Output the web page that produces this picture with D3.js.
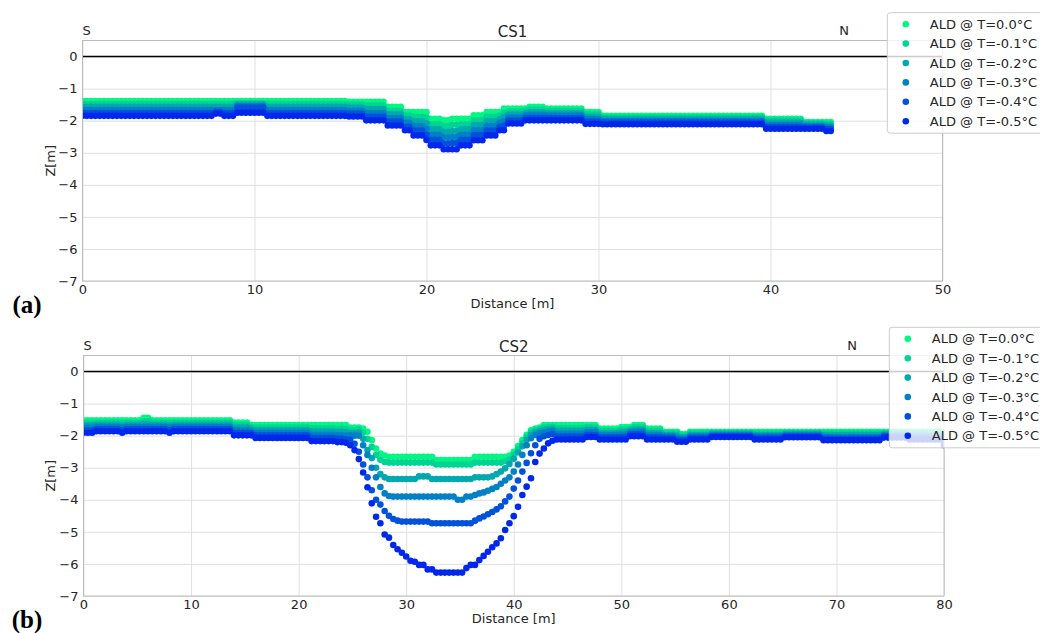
<!DOCTYPE html>
<html><head><meta charset="utf-8">
<script src="https://cdn.jsdelivr.net/npm/d3@7"></script>
<style>body{margin:0;background:#fff}svg{display:block}</style>
</head><body><svg id="c" width="1040" height="633"></svg>
<script>
const seriesLabels = ["ALD @ T=0.0°C","ALD @ T=-0.1°C","ALD @ T=-0.2°C","ALD @ T=-0.3°C","ALD @ T=-0.4°C","ALD @ T=-0.5°C"];
const seriesColors = ["#00f882","#00d494","#00a9ad","#0080c6","#0052dd","#0027ec"];
const yTicks = [0,-1,-2,-3,-4,-5,-6,-7];
const xTicks1 = [0,10,20,30,40,50];
const xTicks2 = [0,10,20,30,40,50,60,70,80];

// ---------- CS1 ----------
const cs1_x = [
0,0.25,0.5,0.75,1,1.25,1.5,1.75,2,2.25,2.5,2.75,3,3.25,3.5,3.75,4,4.25,4.5,4.75,
5,5.25,5.5,5.75,6,6.25,6.5,6.75,7,7.25,7.5,7.75,8,8.25,8.5,8.75,9,9.25,9.5,9.75,
10,10.25,10.5,10.75,11,11.25,11.5,11.75,12,12.25,12.5,12.75,13,13.25,13.5,13.75,14,14.25,14.5,14.75,
15,15.25,15.5,15.75,16,16.25,16.5,16.75,17,17.25,17.5,17.75,18,18.25,18.5,18.75,19,19.25,19.5,19.75,
20,20.25,20.5,20.75,21,21.25,21.5,21.75,22,22.25,22.5,22.75,23,23.25,23.5,23.75,24,24.25,24.5,24.75,
25,25.25,25.5,25.75,26,26.25,26.5,26.75,27,27.25,27.5,27.75,28,28.25,28.5,28.75,29,29.25,29.5,29.75,
30,30.25,30.5,30.75,31,31.25,31.5,31.75,32,32.25,32.5,32.75,33,33.25,33.5,33.75,34,34.25,34.5,34.75,
35,35.25,35.5,35.75,36,36.25,36.5,36.75,37,37.25,37.5,37.75,38,38.25,38.5,38.75,39,39.25,39.5,39.75,
40,40.25,40.5,40.75,41,41.25,41.5,41.75,42,42.25,42.5,42.75,43,43.25,43.5];

const cs1_t00 = [
-1.39,-1.39,-1.39,-1.39,-1.39,-1.39,-1.39,-1.39,-1.39,-1.39,
-1.39,-1.39,-1.39,-1.39,-1.39,-1.39,-1.39,-1.39,-1.39,-1.39,
-1.39,-1.39,-1.39,-1.39,-1.39,-1.39,-1.39,-1.39,-1.39,-1.39,
-1.39,-1.39,-1.39,-1.39,-1.39,-1.39,-1.39,-1.39,-1.39,-1.39,
-1.39,-1.39,-1.39,-1.39,-1.39,-1.39,-1.39,-1.39,-1.39,-1.39,
-1.39,-1.39,-1.39,-1.39,-1.39,-1.39,-1.39,-1.39,-1.39,-1.39,
-1.39,-1.39,
-1.41,-1.41,-1.41,-1.41,-1.41,-1.41,-1.41,-1.41,-1.41,
-1.57,-1.57,-1.57,-1.57,
-1.73,-1.73,-1.73,-1.73,-1.73,-1.73,
-1.94,-1.94,-1.94,
-1.99,-1.99,
-1.94,-1.94,-1.94,-1.94,-1.94,
-1.83,-1.83,-1.83,
-1.73,-1.73,-1.73,-1.73,
-1.62,-1.62,-1.62,-1.62,-1.62,-1.62,
-1.57,-1.57,-1.57,-1.57,
-1.62,-1.62,-1.62,-1.62,-1.62,-1.62,-1.62,-1.62,-1.62,
-1.73,-1.73,-1.73,-1.73,
-1.85,-1.85,-1.85,-1.85,-1.85,-1.85,-1.85,-1.85,-1.85,-1.85,
-1.85,-1.85,-1.85,-1.85,-1.85,-1.85,-1.85,-1.85,-1.85,-1.85,
-1.85,-1.85,-1.85,-1.85,-1.85,-1.85,-1.85,-1.85,-1.85,-1.85,
-1.85,-1.85,-1.85,-1.85,-1.85,-1.85,-1.85,-1.85,
-1.94,-1.94,-1.94,-1.94,-1.94,-1.94,-1.94,-1.94,-1.94,
-2.04,-2.04,-2.04,-2.04,-2.04,-2.04,-2.04];

const cs1_t01 = [
-1.48,-1.48,-1.48,-1.48,-1.48,-1.48,-1.48,-1.48,-1.48,-1.48,
-1.48,-1.48,-1.48,-1.48,-1.48,-1.48,-1.48,-1.48,-1.48,-1.48,
-1.48,-1.48,-1.48,-1.48,-1.48,-1.48,-1.48,-1.48,-1.48,-1.48,
-1.48,-1.48,-1.48,-1.48,-1.48,-1.48,
-1.46,-1.46,-1.46,-1.46,-1.46,-1.46,-1.46,
-1.48,-1.48,-1.48,-1.48,-1.48,-1.48,-1.48,-1.48,-1.48,-1.48,
-1.48,-1.48,-1.48,-1.48,-1.48,-1.48,-1.48,-1.48,-1.48,
-1.50,-1.50,-1.50,-1.50,
-1.53,-1.53,-1.53,-1.53,-1.53,
-1.69,-1.69,-1.69,-1.69,
-1.84,-1.84,
-1.88,-1.88,-1.88,
-1.90,
-2.11,-2.11,-2.11,
-2.17,-2.17,
-2.13,-2.13,
-2.11,-2.11,-2.11,
-1.99,-1.99,-1.99,
-1.88,-1.88,-1.88,
-1.84,
-1.76,
-1.71,-1.71,-1.71,-1.71,
-1.69,
-1.65,-1.65,-1.65,-1.65,
-1.69,-1.69,-1.69,-1.69,-1.69,-1.69,-1.69,-1.69,-1.69,
-1.80,-1.80,-1.80,-1.80,
-1.90,-1.90,-1.90,-1.90,-1.90,-1.90,-1.90,-1.90,-1.90,-1.90,
-1.90,-1.90,-1.90,-1.90,-1.90,-1.90,-1.90,-1.90,-1.90,-1.90,
-1.90,-1.90,-1.90,-1.90,-1.90,-1.90,-1.90,-1.90,-1.90,-1.90,
-1.90,-1.90,-1.90,-1.90,-1.90,-1.90,-1.90,-1.90,
-2.00,-2.00,-2.00,-2.00,-2.00,-2.00,-2.00,-2.00,-2.00,
-2.08,-2.08,-2.08,-2.08,-2.08,
-2.10,-2.10];

const cs1_t02 = [
-1.57,-1.57,-1.57,-1.57,-1.57,-1.57,-1.57,-1.57,-1.57,-1.57,
-1.57,-1.57,-1.57,-1.57,-1.57,-1.57,-1.57,-1.57,-1.57,-1.57,
-1.57,-1.57,-1.57,-1.57,-1.57,-1.57,-1.57,-1.57,-1.57,-1.57,
-1.57,-1.57,-1.57,-1.57,-1.57,-1.57,
-1.50,-1.50,-1.50,-1.50,-1.50,-1.50,-1.50,
-1.57,-1.57,-1.57,-1.57,-1.57,-1.57,-1.57,-1.57,-1.57,-1.57,
-1.57,-1.57,-1.57,-1.57,-1.57,-1.57,-1.57,-1.57,-1.57,
-1.59,-1.59,-1.59,-1.59,
-1.64,-1.64,-1.64,-1.64,-1.64,
-1.80,-1.80,-1.80,-1.80,
-1.96,-1.96,
-2.02,-2.02,-2.02,
-2.08,
-2.27,-2.27,-2.27,
-2.35,-2.35,
-2.32,-2.32,
-2.27,-2.27,-2.27,
-2.14,-2.14,-2.14,
-2.02,-2.02,-2.02,
-1.96,
-1.89,
-1.81,-1.81,-1.81,-1.81,
-1.77,
-1.74,-1.74,-1.74,-1.74,
-1.77,-1.77,-1.77,-1.77,-1.77,-1.77,-1.77,-1.77,-1.77,
-1.88,-1.88,-1.88,-1.88,
-1.95,-1.95,-1.95,-1.95,-1.95,-1.95,-1.95,-1.95,-1.95,-1.95,
-1.95,-1.95,-1.95,-1.95,-1.95,-1.95,-1.95,-1.95,-1.95,-1.95,
-1.95,-1.95,-1.95,-1.95,-1.95,-1.95,-1.95,-1.95,-1.95,-1.95,
-1.95,-1.95,-1.95,-1.95,-1.95,-1.95,-1.95,-1.95,
-2.06,-2.06,-2.06,-2.06,-2.06,-2.06,-2.06,-2.06,-2.06,
-2.12,-2.12,-2.12,-2.12,-2.12,
-2.15,-2.15];

const cs1_t03 = [
-1.67,-1.67,-1.67,-1.67,-1.67,-1.67,-1.67,-1.67,-1.67,-1.67,
-1.67,-1.67,-1.67,-1.67,-1.67,-1.67,-1.67,-1.67,-1.67,-1.67,
-1.67,-1.67,-1.67,-1.67,-1.67,-1.67,-1.67,-1.67,-1.67,-1.67,
-1.67,-1.67,-1.67,-1.67,-1.67,-1.67,
-1.54,-1.54,-1.54,-1.54,-1.54,-1.54,-1.54,
-1.67,-1.67,-1.67,-1.67,-1.67,-1.67,-1.67,-1.67,-1.67,-1.67,
-1.67,-1.67,-1.67,-1.67,-1.67,-1.67,-1.67,-1.67,-1.67,
-1.69,-1.69,-1.69,-1.69,
-1.76,-1.76,-1.76,-1.76,-1.76,
-1.92,-1.92,-1.92,-1.92,
-2.07,-2.07,
-2.17,-2.17,-2.17,
-2.25,
-2.44,-2.44,-2.44,
-2.53,-2.53,
-2.51,-2.51,
-2.44,-2.44,-2.44,
-2.30,-2.30,-2.30,
-2.17,-2.17,-2.17,
-2.07,
-2.03,
-1.90,-1.90,-1.90,-1.90,
-1.84,
-1.82,-1.82,-1.82,-1.82,
-1.84,-1.84,-1.84,-1.84,-1.84,-1.84,-1.84,-1.84,-1.84,
-1.95,-1.95,-1.95,-1.95,
-2.01,-2.01,-2.01,-2.01,-2.01,-2.01,-2.01,-2.01,-2.01,-2.01,
-2.01,-2.01,-2.01,-2.01,-2.01,-2.01,-2.01,-2.01,-2.01,-2.01,
-2.01,-2.01,-2.01,-2.01,-2.01,-2.01,-2.01,-2.01,-2.01,-2.01,
-2.01,-2.01,-2.01,-2.01,-2.01,-2.01,-2.01,-2.01,
-2.13,-2.13,-2.13,-2.13,-2.13,-2.13,-2.13,-2.13,-2.13,
-2.17,-2.17,-2.17,-2.17,-2.17,
-2.21,-2.21];

const cs1_t04 = [
-1.76,-1.76,-1.76,-1.76,-1.76,-1.76,-1.76,-1.76,-1.76,-1.76,
-1.76,-1.76,-1.76,-1.76,-1.76,-1.76,-1.76,-1.76,-1.76,-1.76,
-1.76,-1.76,-1.76,-1.76,-1.76,-1.76,-1.76,-1.76,-1.76,-1.76,
-1.76,
-1.72,-1.72,
-1.76,-1.76,-1.76,
-1.58,-1.58,-1.58,-1.58,-1.58,-1.58,-1.58,
-1.76,-1.76,-1.76,-1.76,-1.76,-1.76,-1.76,-1.76,-1.76,-1.76,
-1.76,-1.76,-1.76,-1.76,-1.76,-1.76,-1.76,-1.76,-1.76,
-1.78,-1.78,-1.78,-1.78,
-1.87,-1.87,-1.87,-1.87,-1.87,
-2.03,-2.03,-2.03,-2.03,
-2.19,-2.19,
-2.31,-2.31,-2.31,
-2.43,
-2.60,-2.60,-2.60,
-2.71,-2.71,
-2.70,-2.70,
-2.60,-2.60,-2.60,
-2.45,-2.45,-2.45,
-2.31,-2.31,-2.31,
-2.19,
-2.16,
-2.00,-2.00,-2.00,-2.00,
-1.92,
-1.91,-1.91,-1.91,-1.91,
-1.92,-1.92,-1.92,-1.92,-1.92,-1.92,-1.92,-1.92,-1.92,
-2.03,-2.03,-2.03,-2.03,
-2.06,-2.06,-2.06,-2.06,-2.06,-2.06,-2.06,-2.06,-2.06,-2.06,
-2.06,-2.06,-2.06,-2.06,-2.06,-2.06,-2.06,-2.06,-2.06,-2.06,
-2.06,-2.06,-2.06,-2.06,-2.06,-2.06,-2.06,-2.06,-2.06,-2.06,
-2.06,-2.06,-2.06,-2.06,-2.06,-2.06,-2.06,-2.06,
-2.19,-2.19,-2.19,-2.19,-2.19,-2.19,-2.19,-2.19,-2.19,
-2.21,-2.21,-2.21,-2.21,-2.21,
-2.26,-2.26];

const cs1_t05 = [
-1.85,-1.85,-1.85,-1.85,-1.85,-1.85,-1.85,-1.85,-1.85,-1.85,
-1.85,-1.85,-1.85,-1.85,-1.85,-1.85,-1.85,-1.85,-1.85,-1.85,
-1.85,-1.85,-1.85,-1.85,-1.85,-1.85,-1.85,-1.85,-1.85,-1.85,
-1.85,
-1.78,-1.78,
-1.85,-1.85,-1.85,
-1.75,-1.75,-1.75,-1.75,-1.75,-1.75,-1.75,
-1.85,-1.85,-1.85,-1.85,-1.85,-1.85,-1.85,-1.85,-1.85,-1.85,
-1.85,-1.85,-1.85,-1.85,-1.85,-1.85,-1.85,-1.85,-1.85,
-1.87,-1.87,-1.87,-1.87,
-1.99,-1.99,-1.99,-1.99,-1.99,
-2.15,-2.15,-2.15,-2.15,
-2.30,-2.30,
-2.46,-2.46,-2.46,
-2.60,
-2.77,-2.77,-2.77,
-2.89,-2.89,
-2.89,-2.89,
-2.77,-2.77,-2.77,
-2.61,-2.61,-2.61,
-2.46,-2.46,-2.46,
-2.30,
-2.30,
-2.09,-2.09,-2.09,-2.09,
-1.99,
-1.99,-1.99,-1.99,-1.99,
-1.99,-1.99,-1.99,-1.99,-1.99,-1.99,-1.99,-1.99,-1.99,
-2.10,-2.10,-2.10,-2.10,
-2.11,-2.11,-2.11,-2.11,-2.11,-2.11,-2.11,-2.11,-2.11,-2.11,
-2.11,-2.11,-2.11,-2.11,-2.11,-2.11,-2.11,-2.11,-2.11,-2.11,
-2.11,-2.11,-2.11,-2.11,-2.11,-2.11,-2.11,-2.11,-2.11,-2.11,
-2.11,-2.11,-2.11,-2.11,-2.11,-2.11,-2.11,-2.11,
-2.25,-2.25,-2.25,-2.25,-2.25,-2.25,-2.25,-2.25,-2.25,
-2.25,-2.25,-2.25,-2.25,-2.25,
-2.32,-2.32];

// ---------- CS2 ----------
const cs2_x = [
0,0.4,0.8,1.2,1.6,2,2.4,2.8,3.2,3.6,
4,4.4,4.8,5.2,5.6,6,6.4,6.8,7.2,7.6,
8,8.4,8.8,9.2,9.6,10,10.4,10.8,11.2,11.6,
12,12.4,12.8,13.2,13.6,14,14.4,14.8,15.2,15.6,
16,16.4,16.8,17.2,17.6,18,18.4,18.8,19.2,19.6,
20,20.4,20.8,21.2,21.6,22,22.4,22.8,23.2,23.6,
24,24.4,24.8,25.2,25.6,26,26.4,26.8,27.2,27.6,
28,28.4,28.8,29.2,29.6,30,30.4,30.8,31.2,31.6,
32,32.4,32.8,33.2,33.6,34,34.4,34.8,35.2,35.6,
36,36.4,36.8,37.2,37.6,38,38.4,38.8,39.2,39.6,
40,40.4,40.8,41.2,41.6,42,42.4,42.8,43.2,43.6,
44,44.4,44.8,45.2,45.6,46,46.4,46.8,47.2,47.6,
48,48.4,48.8,49.2,49.6,50,50.4,50.8,51.2,51.6,
52,52.4,52.8,53.2,53.6,54,54.4,54.8,55.2,55.6,
56,56.4,56.8,57.2,57.6,58,58.4,58.8,59.2,59.6,
60,60.4,60.8,61.2,61.6,62,62.4,62.8,63.2,63.6,
64,64.4,64.8,65.2,65.6,66,66.4,66.8,67.2,67.6,
68,68.4,68.8,69.2,69.6,70,70.4,70.8,71.2,71.6,
72,72.4,72.8,73.2,73.6,74,74.4,74.8,75.2,75.6,
76,76.4,76.8,77.2,77.6,78,78.4,78.8,79.2,79.6,
80];

const cs2_t00 = [
-1.52,-1.52,-1.52,-1.52,-1.52,-1.52,-1.52,-1.52,-1.52,-1.52,
-1.52,-1.52,-1.52,-1.52,
-1.44,-1.44,
-1.52,-1.52,-1.52,-1.52,-1.52,-1.52,-1.52,-1.52,-1.52,-1.52,
-1.52,-1.52,-1.52,-1.52,-1.52,-1.52,-1.52,-1.52,-1.52,
-1.59,-1.59,-1.59,-1.59,
-1.67,-1.67,-1.67,-1.67,-1.67,-1.67,-1.67,-1.67,-1.67,-1.67,
-1.67,-1.67,-1.67,-1.67,-1.67,-1.67,-1.67,-1.67,-1.67,-1.67,
-1.67,-1.67,-1.67,
-1.75,-1.75,-1.75,
-1.78,-1.88,-2.14,-2.40,-2.56,-2.62,
-2.66,-2.66,-2.66,-2.66,-2.66,-2.66,-2.66,-2.66,-2.66,-2.66,-2.66,
-2.76,-2.76,-2.76,-2.76,-2.76,-2.76,-2.76,-2.76,-2.76,
-2.66,-2.66,-2.66,-2.66,-2.66,-2.66,-2.66,-2.66,
-2.62,-2.50,-2.32,-2.14,-1.97,-1.83,-1.78,-1.75,
-1.67,-1.67,-1.67,-1.67,-1.67,-1.67,-1.67,-1.67,-1.67,-1.67,
-1.67,-1.67,-1.67,
-1.78,-1.78,-1.78,-1.78,-1.78,
-1.73,-1.73,-1.73,
-1.67,-1.67,-1.67,
-1.78,-1.78,-1.78,-1.78,
-1.88,-1.88,-1.88,-1.88,
-1.95,-1.95,
-1.88,-1.88,-1.88,-1.88,-1.88,-1.88,-1.88,-1.88,-1.88,-1.88,
-1.88,-1.88,-1.88,-1.88,-1.88,-1.88,-1.88,-1.88,-1.88,-1.88,
-1.88,-1.88,-1.88,-1.88,-1.88,-1.88,-1.88,-1.88,-1.88,-1.88,
-1.88,-1.88,-1.88,-1.88,-1.88,-1.88,-1.88,-1.88,-1.88,-1.88,
-1.88,-1.88,-1.88,-1.88,-1.88,-1.88,-1.88,-1.88,-1.88,-1.88,
-1.88,-1.88,-1.88,-1.88,-1.88,-1.88,-1.88,-1.88,-1.88,-1.88];

const cs2_t01 = [
-1.60,-1.60,-1.60,
-1.59,-1.59,-1.59,-1.59,-1.59,-1.59,
-1.60,
-1.59,-1.59,-1.59,-1.59,
-1.55,-1.55,
-1.59,-1.59,-1.59,-1.59,
-1.60,
-1.59,-1.59,-1.59,-1.59,-1.59,-1.59,-1.59,-1.59,-1.59,-1.59,
-1.59,-1.59,-1.59,-1.59,
-1.67,-1.67,-1.67,-1.67,
-1.73,
-1.75,-1.75,-1.75,-1.75,-1.75,-1.75,-1.75,-1.75,-1.75,-1.75,
-1.75,-1.75,-1.75,
-1.77,-1.77,-1.77,-1.77,-1.77,-1.77,
-1.78,-1.78,-1.78,
-1.83,-1.83,
-1.82,-1.90,-2.10,-2.35,-2.60,-2.75,-2.82,
-2.84,-2.84,-2.84,-2.84,-2.84,-2.84,-2.84,-2.84,-2.84,-2.84,-2.84,
-2.90,-2.90,-2.90,-2.90,-2.90,-2.90,-2.90,-2.90,-2.90,
-2.84,-2.84,-2.84,-2.84,-2.84,-2.84,-2.84,
-2.80,-2.74,-2.60,-2.42,-2.24,-2.05,-1.90,-1.83,-1.80,-1.75,-1.73,-1.72,
-1.76,-1.76,-1.76,-1.76,-1.76,-1.76,-1.76,
-1.74,-1.74,-1.74,
-1.85,-1.85,-1.85,-1.85,-1.85,
-1.81,-1.81,
-1.79,
-1.74,-1.74,-1.74,
-1.85,-1.85,-1.85,-1.85,
-1.93,-1.93,-1.93,
-1.94,
-2.00,-2.00,
-1.93,-1.93,-1.93,-1.93,-1.93,
-1.91,-1.91,-1.91,-1.91,-1.91,-1.91,-1.91,-1.91,-1.91,-1.91,
-1.93,-1.93,-1.93,-1.93,-1.93,-1.93,-1.93,
-1.91,-1.91,-1.91,-1.91,-1.91,-1.91,-1.91,-1.91,-1.91,
-1.93,-1.93,-1.93,-1.93,-1.93,-1.93,-1.93,-1.93,-1.93,-1.93,-1.93,-1.93,-1.93,-1.93,
-1.92,-1.92,-1.92,-1.92,-1.92,-1.92,
-1.93,-1.93,-1.93,-1.93,-1.93,-1.93,-1.93,-1.93,
-1.96];

const cs2_t02 = [
-1.68,-1.68,-1.68,
-1.66,-1.66,-1.66,-1.66,-1.66,-1.66,
-1.68,
-1.66,-1.66,-1.66,-1.66,
-1.64,-1.64,
-1.66,-1.66,-1.66,-1.66,
-1.68,
-1.66,-1.66,-1.66,-1.66,-1.66,-1.66,-1.66,-1.66,-1.66,-1.66,
-1.66,-1.66,-1.66,-1.66,
-1.75,-1.75,-1.75,-1.75,
-1.80,
-1.83,-1.83,-1.83,-1.83,-1.83,-1.83,-1.83,-1.83,-1.83,-1.83,
-1.83,-1.83,-1.83,
-1.87,-1.87,-1.87,-1.87,-1.87,-1.87,
-1.88,-1.88,
-1.89,-1.91,-1.92,
-1.90,-2.10,-2.45,-2.70,-3.00,-3.20,-3.30,
-3.35,-3.35,-3.35,-3.35,-3.35,-3.35,-3.35,
-3.27,-3.27,-3.27,
-3.35,-3.35,-3.35,-3.35,-3.35,-3.35,-3.35,-3.35,-3.35,-3.35,
-3.30,-3.30,-3.30,-3.30,
-3.27,-3.20,-3.12,-3.02,-2.88,-2.72,-2.52,-2.33,-2.13,-1.98,-1.90,-1.86,-1.82,-1.80,-1.78,
-1.85,-1.85,-1.85,-1.85,-1.85,-1.85,-1.85,
-1.82,-1.82,-1.82,
-1.92,-1.92,-1.92,-1.92,-1.92,
-1.89,-1.89,
-1.85,
-1.81,-1.81,-1.81,
-1.92,-1.92,-1.92,-1.92,
-1.98,-1.98,-1.98,
-2.00,
-2.05,-2.05,
-1.98,-1.98,-1.98,-1.98,-1.98,
-1.94,-1.94,-1.94,-1.94,-1.94,-1.94,-1.94,-1.94,-1.94,-1.94,
-1.98,-1.98,-1.98,-1.98,-1.98,-1.98,-1.98,
-1.95,-1.95,-1.95,-1.95,-1.95,-1.95,-1.95,-1.95,-1.95,
-1.98,-1.98,-1.98,-1.98,-1.98,-1.98,-1.98,-1.98,-1.98,-1.98,-1.98,-1.98,-1.98,-1.98,
-1.95,-1.95,-1.95,-1.95,-1.95,-1.95,
-1.98,-1.98,-1.98,-1.98,-1.98,-1.98,-1.98,-1.98,
-2.05];

const cs2_t03 = [
-1.75,-1.75,-1.75,
-1.72,-1.72,-1.72,-1.72,-1.72,-1.72,
-1.75,
-1.72,-1.72,-1.72,-1.72,
-1.72,-1.72,
-1.72,-1.72,-1.72,-1.72,
-1.75,
-1.72,-1.72,-1.72,-1.72,-1.72,-1.72,-1.72,-1.72,-1.72,-1.72,
-1.72,-1.72,-1.72,-1.72,
-1.83,-1.83,-1.83,-1.83,
-1.86,
-1.91,-1.91,-1.91,-1.91,-1.91,-1.91,-1.91,-1.91,-1.91,-1.91,
-1.91,-1.91,-1.91,
-1.97,-1.97,-1.97,-1.97,-1.97,-1.97,
-1.99,-1.99,
-2.00,-1.99,-2.00,
-2.00,-2.30,-2.60,-3.00,-3.30,-3.60,-3.80,-3.88,
-3.90,-3.90,-3.90,-3.90,-3.90,-3.90,-3.90,-3.90,-3.90,-3.90,
-3.90,-3.90,-3.90,-3.90,-3.90,
-4.00,-4.00,
-3.90,-3.90,
-3.85,-3.80,-3.77,-3.72,-3.66,-3.60,-3.50,-3.40,-3.30,-3.12,
-2.90,-2.60,-2.30,-2.08,-1.98,-1.93,-1.90,-1.88,-1.85,
-1.94,-1.94,-1.94,-1.94,-1.94,-1.94,-1.94,
-1.89,-1.89,-1.89,
-1.98,-1.98,-1.98,-1.98,-1.98,
-1.96,-1.96,
-1.90,
-1.88,-1.88,-1.88,
-1.98,-1.98,-1.98,-1.98,
-2.02,-2.02,-2.02,
-2.07,
-2.09,-2.09,
-2.02,-2.02,-2.02,-2.02,-2.02,
-1.98,-1.98,-1.98,-1.98,-1.98,-1.98,-1.98,-1.98,-1.98,-1.98,
-2.02,-2.02,-2.02,-2.02,-2.02,-2.02,-2.02,
-1.98,-1.98,-1.98,-1.98,-1.98,-1.98,-1.98,-1.98,-1.98,
-2.04,-2.04,-2.04,-2.04,-2.04,-2.04,-2.04,-2.04,-2.04,-2.04,-2.04,-2.04,-2.04,-2.04,
-1.99,-1.99,-1.99,-1.99,-1.99,-1.99,
-2.02,-2.02,-2.02,-2.02,-2.02,-2.02,-2.02,-2.02,
-2.13];

const cs2_t04 = [
-1.83,-1.83,-1.83,
-1.79,-1.79,-1.79,-1.79,-1.79,-1.79,
-1.83,
-1.79,-1.79,-1.79,-1.79,
-1.79,-1.79,
-1.79,-1.79,-1.79,-1.79,
-1.83,
-1.79,-1.79,-1.79,-1.79,-1.79,-1.79,-1.79,-1.79,-1.79,-1.79,
-1.79,-1.79,-1.79,-1.79,
-1.91,-1.91,-1.91,-1.91,
-1.93,
-1.99,-1.99,-1.99,-1.99,-1.99,-1.99,-1.99,-1.99,-1.99,-1.99,
-1.99,-1.99,-1.99,
-2.07,-2.07,-2.07,-2.07,-2.07,-2.07,
-2.09,-2.09,
-2.11,-2.12,-2.25,-2.50,-2.90,-3.30,-3.70,-4.00,-4.15,-4.35,-4.50,-4.60,-4.65,
-4.68,-4.68,-4.68,-4.68,-4.68,-4.68,-4.68,
-4.73,-4.73,-4.73,-4.73,-4.73,-4.73,-4.73,-4.73,-4.73,-4.73,
-4.65,-4.58,-4.52,-4.45,-4.38,-4.30,-4.20,-4.05,-3.90,-3.65,
-3.40,-3.12,-2.85,-2.55,-2.30,-2.10,-2.02,-1.98,-1.95,
-2.03,-2.03,-2.03,-2.03,-2.03,-2.03,-2.03,
-1.97,-1.97,-1.97,
-2.05,-2.05,-2.05,-2.05,-2.05,
-2.04,-2.04,
-1.96,
-1.95,-1.95,-1.95,
-2.05,-2.05,-2.05,-2.05,
-2.07,-2.07,-2.07,
-2.13,
-2.14,-2.14,
-2.07,-2.07,-2.07,-2.07,-2.07,
-2.01,-2.01,-2.01,-2.01,-2.01,-2.01,-2.01,-2.01,-2.01,-2.01,
-2.07,-2.07,-2.07,-2.07,-2.07,-2.07,-2.07,
-2.02,-2.02,-2.02,-2.02,-2.02,-2.02,-2.02,-2.02,-2.02,
-2.09,-2.09,-2.09,-2.09,-2.09,-2.09,-2.09,-2.09,-2.09,-2.09,-2.09,-2.09,-2.09,-2.09,
-2.02,-2.02,-2.02,-2.02,-2.02,-2.02,
-2.07,-2.07,-2.07,-2.07,-2.07,-2.07,-2.07,-2.07,
-2.22];

const cs2_t05 = [
-1.91,-1.91,-1.91,
-1.86,-1.86,-1.86,-1.86,-1.86,-1.86,
-1.91,
-1.86,-1.86,-1.86,-1.86,
-1.86,-1.86,
-1.86,-1.86,-1.86,-1.86,
-1.91,
-1.86,-1.86,-1.86,-1.86,-1.86,-1.86,-1.86,-1.86,-1.86,-1.86,
-1.86,-1.86,-1.86,-1.86,
-1.99,-1.99,-1.99,-1.99,
-1.99,
-2.07,-2.07,-2.07,-2.07,-2.07,-2.07,-2.07,-2.07,-2.07,-2.07,
-2.07,-2.07,-2.07,
-2.17,-2.17,-2.17,-2.17,-2.17,-2.17,
-2.20,-2.20,
-2.22,-2.30,-2.45,-2.73,-3.15,-3.61,-4.11,-4.53,-4.73,-5.08,
-5.18,-5.41,-5.54,-5.65,-5.77,-5.90,-5.93,-6.03,-6.03,-6.17,-6.17,
-6.27,-6.27,-6.27,-6.27,-6.27,-6.27,-6.27,
-6.13,-6.03,-6.03,-5.88,-5.75,-5.62,-5.48,-5.36,-5.20,-4.94,
-4.73,-4.51,-4.22,-3.85,-3.59,-3.33,-2.82,-2.56,-2.40,-2.24,-2.16,
-2.12,-2.12,-2.12,-2.12,-2.12,-2.12,-2.12,
-2.04,-2.04,-2.04,
-2.12,-2.12,-2.12,-2.12,-2.12,-2.12,-2.12,
-2.02,-2.02,-2.02,-2.02,
-2.12,-2.12,-2.12,-2.12,-2.12,-2.12,-2.12,
-2.19,-2.19,-2.19,
-2.12,-2.12,-2.12,-2.12,-2.12,
-2.04,-2.04,-2.04,-2.04,-2.04,-2.04,-2.04,-2.04,-2.04,-2.04,
-2.12,-2.12,-2.12,-2.12,-2.12,-2.12,-2.12,
-2.05,-2.05,-2.05,-2.05,-2.05,-2.05,-2.05,-2.05,-2.05,
-2.14,-2.14,-2.14,-2.14,-2.14,-2.14,-2.14,-2.14,-2.14,-2.14,-2.14,-2.14,-2.14,-2.14,
-2.06,-2.06,-2.06,-2.06,-2.06,-2.06,
-2.12,-2.12,-2.12,-2.12,-2.12,-2.12,-2.12,-2.12,
-2.30];

const FONT = "DejaVu Sans";
const svg = d3.select("#c");
svg.append("rect").attr("width",1040).attr("height",633).attr("fill","#fff");

function panel(o){
  const x = d3.scaleLinear().domain([0,o.xMax]).range([o.left,o.right]);
  const y = d3.scaleLinear().domain([-7,0.5]).range([o.bottom,o.top]);
  const w = o.right-o.left, h = o.bottom-o.top;
  const g = svg.append("g");

  const gx = g.append("g").attr("transform",`translate(0,${o.bottom})`)
    .call(d3.axisBottom(x).tickValues(o.xTicks).tickSize(-h).tickPadding(4));
  gx.select(".domain").remove();
  gx.attr("font-family",FONT).attr("font-size",13);
  gx.selectAll(".tick line").attr("stroke","#e0e0e0");
  gx.selectAll(".tick text").attr("fill","#262626");

  const gy = g.append("g").attr("transform",`translate(${o.left},0)`)
    .call(d3.axisLeft(y).tickValues(yTicks).tickSize(-w).tickPadding(5));
  gy.select(".domain").remove();
  gy.attr("font-family",FONT).attr("font-size",13);
  gy.selectAll(".tick line").attr("stroke","#e0e0e0");
  gy.selectAll(".tick text").attr("fill","#262626");

  g.append("line").attr("x1",o.left).attr("x2",o.right).attr("y1",y(0)).attr("y2",y(0))
    .attr("stroke","#000").attr("stroke-width",1.5);

  const cid = "clip"+o.id;
  svg.append("clipPath").attr("id",cid).append("rect")
    .attr("x",o.left).attr("y",o.top).attr("width",w).attr("height",h);
  o.series.forEach((zs,k)=>{
    g.append("g").attr("clip-path",`url(#${cid})`)
      .selectAll("circle").data(d3.zip(o.xs,zs)).join("circle")
      .attr("cx",d=>x(d[0])).attr("cy",d=>y(d[1])).attr("r",3.3)
      .attr("fill",seriesColors[k]);
  });

  g.append("rect").attr("x",o.left).attr("y",o.top).attr("width",w).attr("height",h)
    .attr("fill","none").attr("stroke","#bcbcbc").attr("stroke-width",1);

  const txt = (t,xx,yy,anchor,size,extra)=>{
    const e = g.append("text").attr("x",xx).attr("y",yy).attr("text-anchor",anchor)
      .attr("font-family",FONT).attr("font-size",size).attr("fill","#262626").text(t);
    return e;
  };
  txt(o.title,(o.left+o.right)/2,o.top-4,"middle",15);
  txt("S",x(0),o.top-6,"start",13);
  txt("N",x(o.nAt),o.top-6,"start",13);
  txt("Distance [m]",(o.left+o.right)/2,o.bottom+27,"middle",13);
  g.append("text").attr("transform",`translate(55,${(o.top+o.bottom)/2}) rotate(-90)`)
    .attr("text-anchor","middle").attr("font-family",FONT).attr("font-size",13)
    .attr("fill","#262626").text("Z[m]");
  g.append("text").attr("x",27).attr("y",o.bottom+32).attr("text-anchor","middle")
    .attr("font-family","Liberation Serif").attr("font-weight","bold").attr("font-size",25)
    .attr("fill","#000").text(o.tag);

  const lg = g.append("g");
  lg.append("rect").attr("x",o.legX).attr("y",o.legY).attr("width",180).attr("height",120.5)
    .attr("rx",3).attr("fill","#fff").attr("fill-opacity",0.8).attr("stroke","#cccccc");
  seriesLabels.forEach((t,k)=>{
    const cy = o.legY+11.5+k*19.4;
    lg.append("circle").attr("cx",o.legX+18.5).attr("cy",cy).attr("r",3.3).attr("fill",seriesColors[k]);
    lg.append("text").attr("x",o.legX+42.5).attr("y",cy+4.6).attr("font-family",FONT)
      .attr("font-size",13).attr("fill","#262626").text(t);
  });
}

panel({id:1,title:"CS1",tag:"(a)",xMax:50,xTicks:xTicks1,left:82.5,right:942.5,top:40.5,bottom:281,
  xs:cs1_x,series:[cs1_t00,cs1_t01,cs1_t02,cs1_t03,cs1_t04,cs1_t05],nAt:44,legX:887.3,legY:12.7});
panel({id:2,title:"CS2",tag:"(b)",xMax:80,xTicks:xTicks2,left:83.5,right:944,top:355.5,bottom:596,
  xs:cs2_x,series:[cs2_t00,cs2_t01,cs2_t02,cs2_t03,cs2_t04,cs2_t05],nAt:71,legX:889.3,legY:327.3});
</script></body></html>
